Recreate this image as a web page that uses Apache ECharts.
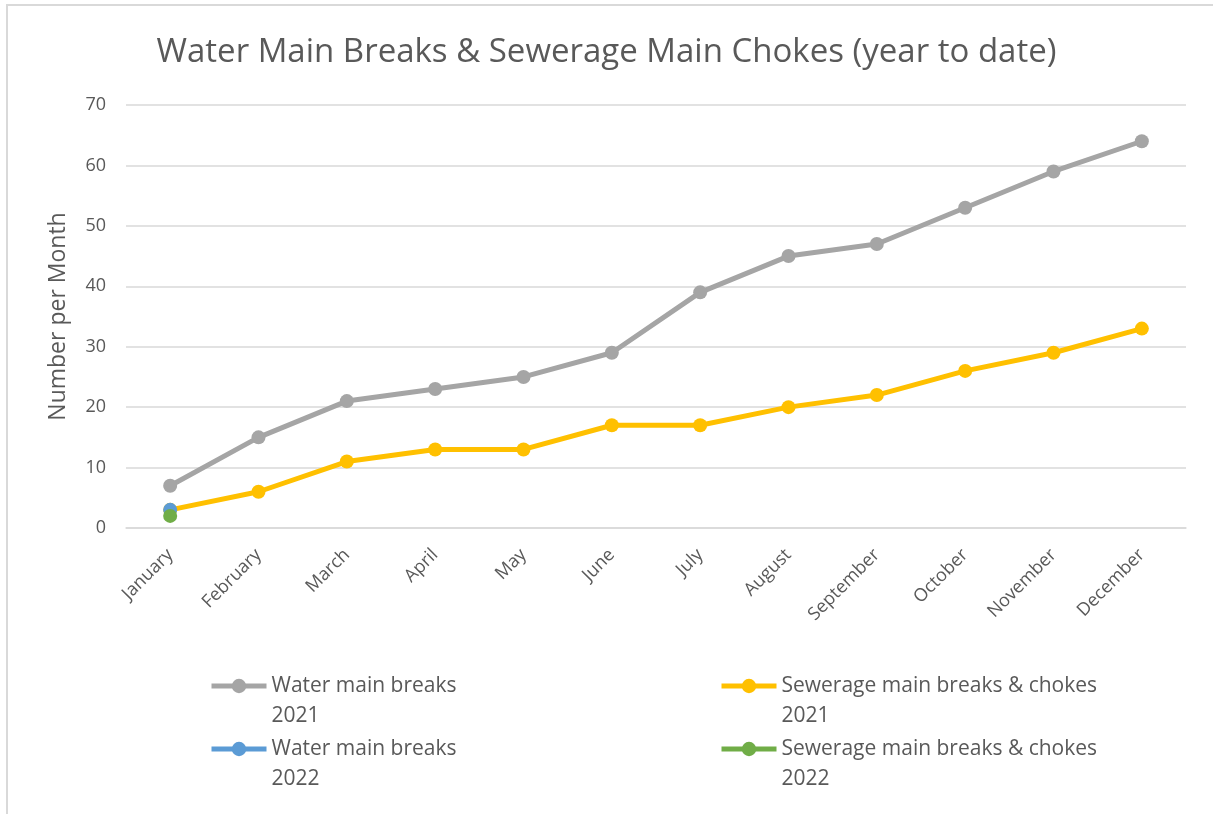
<!DOCTYPE html>
<html>
<head>
<meta charset="utf-8">
<script src="https://cdn.jsdelivr.net/npm/echarts@6/dist/echarts.min.js"></script>
<style>
  html, body { margin: 0; padding: 0; background: #fff; }
  #frame { position: absolute; left: 6px; top: 4px; width: 1300px; height: 900px;
           border-top: 2px solid #d9d9d9; border-left: 2px solid #d9d9d9; }
  #chart { position: absolute; left: 0; top: 0; width: 1213px; height: 814px; }
</style>
</head>
<body>
<div id="frame"></div>
<div id="chart"></div>
<script>
// chart values
const months = ['January', 'February', 'March', 'April', 'May', 'June', 'July',
  'August', 'September', 'October', 'November', 'December'];
const water2021 = [7, 15, 21, 23, 25, 29, 39, 45, 47, 53, 59, 64];
const sewer2021 = [3, 6, 11, 13, 13, 17, 17, 20, 22, 26, 29, 33];
const water2022 = [3];
const sewer2022 = [2];

const font = '"Open Sans", sans-serif';
const txt = '#595959';

const chart = echarts.init(document.getElementById('chart'));

function lineSeries(name, data, color) {
  return {
    name: name,
    type: 'line',
    data: data,
    symbol: 'circle',
    symbolSize: 14,
    showAllSymbol: true,
    lineStyle: { color: color, width: 5 },
    itemStyle: { color: color },
    emphasis: { disabled: true },
    animation: false
  };
}

// one legend per entry, so the two columns line up like the original
function legendItem(name, left, top) {
  return {
    data: [name],
    left: left,
    top: top,
    padding: 0,
    itemWidth: 55,
    itemHeight: 18,
    lineStyle: { width: 5 },
    // blank first line keeps the icon level with the first line of text
    formatter: function (n) { return '\n' + n.replace(/ (20\d\d)$/, '\n$1'); },
    textStyle: { fontFamily: font, fontSize: 21, color: txt, lineHeight: 30 }
  };
}

chart.setOption({
  title: {
    text: 'Water Main Breaks & Sewerage Main Chokes (year to date)',
    left: 'center',
    top: 31,
    textStyle: { fontFamily: font, fontSize: 33, fontWeight: 'normal', color: txt }
  },
  legend: [
    legendItem('Water main breaks 2021', 209, 641),
    legendItem('Water main breaks 2022', 209, 704),
    legendItem('Sewerage main breaks & chokes 2021', 719, 641),
    legendItem('Sewerage main breaks & chokes 2022', 719, 704)
  ],
  grid: { left: 126, right: 27, top: 105, bottom: 286 },
  xAxis: {
    type: 'category',
    data: months,
    boundaryGap: true,
    axisLine: { lineStyle: { color: '#d9d9d9', width: 1.5 } },
    axisTick: { show: false },
    axisLabel: { rotate: 45, interval: 0, margin: 24, fontFamily: font, fontSize: 18, color: txt }
  },
  yAxis: {
    type: 'value',
    min: 0,
    max: 70,
    interval: 10,
    name: 'Number per Month',
    nameLocation: 'middle',
    nameGap: 56,
    nameTextStyle: { fontFamily: font, fontSize: 23, color: txt },
    axisLine: { show: false },
    axisTick: { show: false },
    axisLabel: { margin: 20, fontFamily: font, fontSize: 18, color: txt },
    splitLine: { lineStyle: { color: '#d9d9d9', width: 1.5 } }
  },
  series: [
    lineSeries('Water main breaks 2021', water2021, '#A5A5A5'),
    lineSeries('Sewerage main breaks & chokes 2021', sewer2021, '#FFC000'),
    lineSeries('Water main breaks 2022', water2022, '#5B9BD5'),
    lineSeries('Sewerage main breaks & chokes 2022', sewer2022, '#70AD47')
  ]
});
</script>
</body>
</html>
